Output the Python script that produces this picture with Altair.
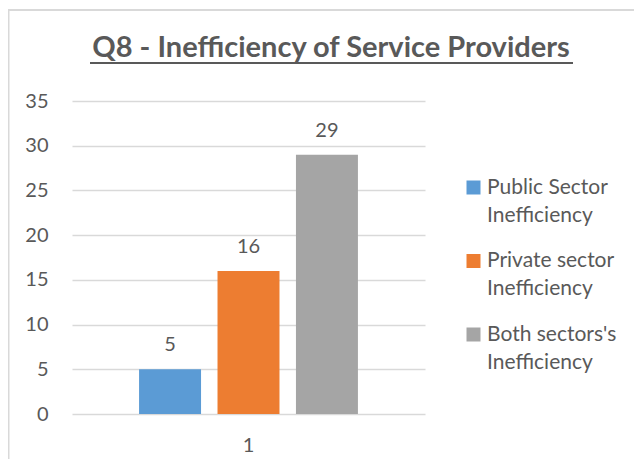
import altair as alt
import pandas as pd

# ---- data ----
categories = ["1", "1", "1"]
series = ["Public Sector Inefficiency", "Private sector Inefficiency", "Both sectors's Inefficiency"]
values = [5, 16, 29]
colors = ["#5B9BD5", "#ED7D31", "#A5A5A5"]
y_ticks = [0, 5, 10, 15, 20, 25, 30, 35]
title_text = "Q8 - Inefficiency of Service Providers"

df = pd.DataFrame({"category": categories, "series": series, "value": values})

FONT = "Lato"
TEXT = "#595959"
GRID = "#D9D9D9"

base = alt.Chart(df)

x_enc = alt.X(
    "category:N", title=None,
    scale=alt.Scale(paddingInner=0, paddingOuter=0.25),
    axis=alt.Axis(labelAngle=0, domain=False, ticks=False, grid=False,
                  labelPadding=21, labelFontSize=20, labelFont=FONT, labelColor=TEXT),
)
xo_enc = alt.XOffset("series:N", sort=series,
                     scale=alt.Scale(paddingInner=0.21, paddingOuter=0.105))
y_enc = alt.Y(
    "value:Q", title=None,
    scale=alt.Scale(domain=[0, 35], nice=False),
    axis=alt.Axis(values=y_ticks, domain=False, ticks=False, grid=True,
                  gridColor=GRID, gridWidth=1.3,
                  labelPadding=24, labelFontSize=20, labelFont=FONT, labelColor=TEXT),
)

bars = base.mark_bar().encode(
    x=x_enc,
    xOffset=xo_enc,
    y=y_enc,
    color=alt.Color(
        "series:N", sort=series,
        scale=alt.Scale(domain=series, range=colors),
        legend=alt.Legend(
            title=None, orient="none", legendX=391, legendY=76,
            labelExpr="[slice(datum.label, 0, lastindexof(datum.label, ' ')), slice(datum.label, lastindexof(datum.label, ' ') + 1)]",
            labelFontSize=21, labelFont=FONT, labelColor=TEXT, labelLimit=400,
            labelBaseline="middle", labelOffset=3,
            symbolType="square", symbolSize=196, symbolStrokeWidth=0,
            rowPadding=23.5,
        ),
    ),
)

labels = base.mark_text(dy=-18, baseline="alphabetic", fontSize=20, font=FONT, color=TEXT).encode(
    x=alt.X("category:N"),
    xOffset=alt.XOffset("series:N", sort=series),
    y=alt.Y("value:Q"),
    text=alt.Text("value:Q"),
)

one = alt.Data(values=[{"title": title_text}])
title = alt.Chart(one).mark_text(
    font=FONT, fontSize=29, fontWeight="bold", color=TEXT,
    align="center", baseline="alphabetic",
).encode(x=alt.value(259), y=alt.value(-44), text="title:N")
underline = alt.Chart(one).mark_rule(color=TEXT, strokeWidth=2).encode(
    x=alt.value(18), x2=alt.value(501), y=alt.value(-38)
)
frame_left = alt.Chart(one).mark_rule(color=GRID, strokeWidth=2).encode(
    x=alt.value(-63.5), y=alt.value(-92), y2=alt.value(400)
)
frame_top = alt.Chart(one).mark_rule(color=GRID, strokeWidth=2).encode(
    x=alt.value(-64), x2=alt.value(600), y=alt.value(-91)
)

chart = alt.layer(frame_left, frame_top, bars, labels, title, underline).properties(
    width=353,
    height=313,
    autosize=alt.AutoSizeParams(type="none"),
    padding={"left": 64, "top": 93, "right": 209, "bottom": 45},
).configure(
    view=alt.ViewConfig(stroke=None),
    style={"guide-label": {"lineHeight": 28}},
)

chart.save("out.html", embed_options={"renderer": "svg", "actions": False})
